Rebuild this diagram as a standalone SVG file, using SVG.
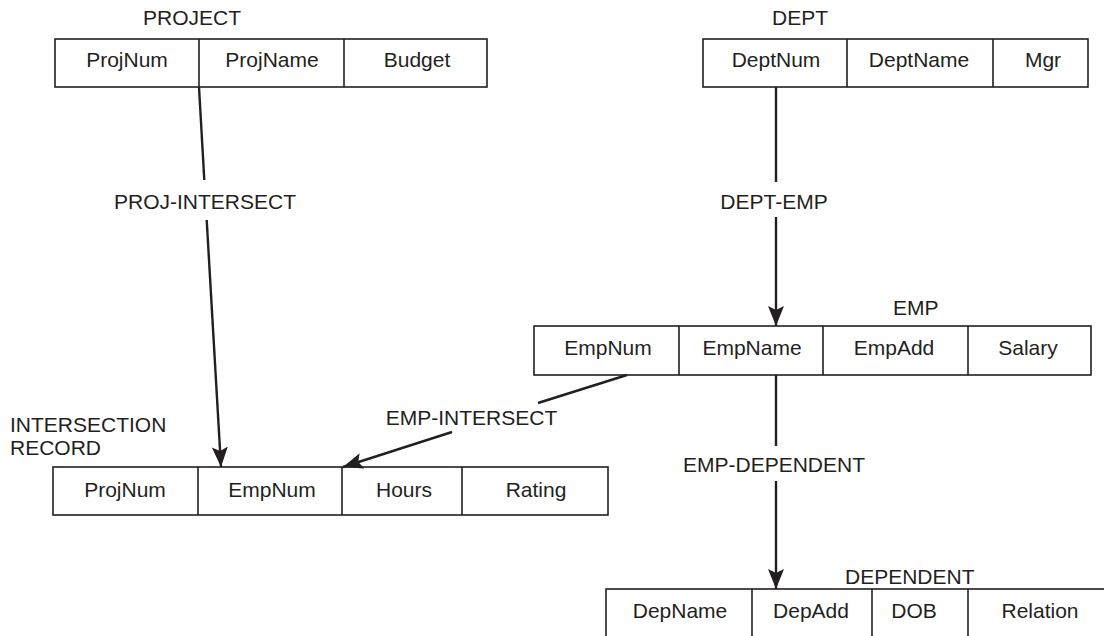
<svg xmlns="http://www.w3.org/2000/svg" width="1104" height="636" viewBox="0 0 1104 636">
<style>
text{font-family:"Liberation Sans",Arial,Helvetica,sans-serif;font-size:21px;fill:#231f20}
.c{text-anchor:middle}
.box{fill:#fff;stroke:#231f20;stroke-width:1.6}
.div{stroke:#231f20;stroke-width:1.6}
.ln{stroke:#231f20;stroke-width:2.4;fill:none}
</style>
<defs>
<marker id="ah" markerUnits="userSpaceOnUse" markerWidth="22" markerHeight="18" refX="20" refY="8" orient="auto">
<path d="M0,0 L20,8 L0,16 L4,8 z" fill="#231f20"/>
</marker>
</defs>
<rect width="1104" height="636" fill="#fff"/>

<g id="project">
<text x="143" y="25">PROJECT</text>
<rect class="box" x="55" y="39" width="432" height="48"/>
<line class="div" x1="199" y1="39" x2="199" y2="87"/>
<line class="div" x1="344" y1="39" x2="344" y2="87"/>
<text class="c" x="127" y="67">ProjNum</text>
<text class="c" x="272" y="67">ProjName</text>
<text class="c" x="417" y="67">Budget</text>
</g>

<g id="dept">
<text x="772" y="25">DEPT</text>
<rect class="box" x="703" y="39" width="385" height="48"/>
<line class="div" x1="847" y1="39" x2="847" y2="87"/>
<line class="div" x1="993" y1="39" x2="993" y2="87"/>
<text class="c" x="776" y="67">DeptNum</text>
<text class="c" x="919" y="67">DeptName</text>
<text class="c" x="1043" y="67">Mgr</text>
</g>

<g id="emp">
<text x="893" y="315">EMP</text>
<rect class="box" x="534" y="326" width="557" height="49"/>
<line class="div" x1="679" y1="326" x2="679" y2="375"/>
<line class="div" x1="823" y1="326" x2="823" y2="375"/>
<line class="div" x1="968" y1="326" x2="968" y2="375"/>
<text class="c" x="608" y="355">EmpNum</text>
<text class="c" x="752" y="355">EmpName</text>
<text class="c" x="894" y="355">EmpAdd</text>
<text class="c" x="1028" y="355">Salary</text>
</g>

<g id="intersection">
<text x="10" y="432">INTERSECTION</text>
<text x="10" y="455">RECORD</text>
<rect class="box" x="53" y="467" width="555" height="48"/>
<line class="div" x1="198" y1="467" x2="198" y2="515"/>
<line class="div" x1="342" y1="467" x2="342" y2="515"/>
<line class="div" x1="462" y1="467" x2="462" y2="515"/>
<text class="c" x="125" y="497">ProjNum</text>
<text class="c" x="272" y="497">EmpNum</text>
<text class="c" x="404" y="497">Hours</text>
<text class="c" x="536" y="497">Rating</text>
</g>

<g id="dependent">
<text x="845" y="584">DEPENDENT</text>
<rect class="box" x="606" y="589" width="508" height="50"/>
<line class="div" x1="752" y1="589" x2="752" y2="639"/>
<line class="div" x1="872" y1="589" x2="872" y2="639"/>
<line class="div" x1="968" y1="589" x2="968" y2="639"/>
<text class="c" x="680" y="618">DepName</text>
<text class="c" x="811" y="618">DepAdd</text>
<text class="c" x="914" y="618">DOB</text>
<text class="c" x="1040" y="618">Relation</text>
</g>

<g id="connectors">
<line class="ln" x1="199" y1="87" x2="204.3" y2="180"/>
<line class="ln" x1="206.7" y1="220" x2="221" y2="467" marker-end="url(#ah)"/>
<text class="c" x="205" y="209">PROJ-INTERSECT</text>

<line class="ln" x1="776" y1="87" x2="776" y2="182"/>
<line class="ln" x1="776" y1="217" x2="776" y2="326" marker-end="url(#ah)"/>
<text class="c" x="774" y="209">DEPT-EMP</text>

<line class="ln" x1="627" y1="375" x2="538" y2="403"/>
<line class="ln" x1="452" y1="432" x2="343" y2="467" marker-end="url(#ah)"/>
<text class="c" x="471.5" y="425">EMP-INTERSECT</text>

<line class="ln" x1="776" y1="375" x2="776" y2="446"/>
<line class="ln" x1="776" y1="481" x2="776" y2="589" marker-end="url(#ah)"/>
<text class="c" x="774" y="472">EMP-DEPENDENT</text>
</g>
</svg>
